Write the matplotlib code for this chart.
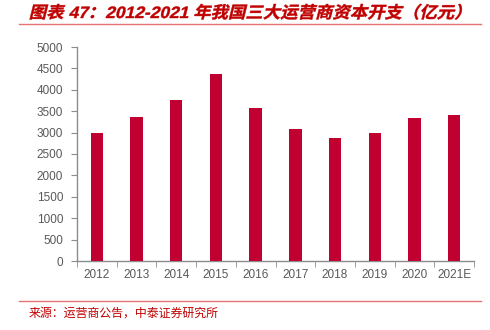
import numpy as np
import matplotlib.pyplot as plt
from matplotlib.lines import Line2D
from matplotlib.textpath import TextPath
from matplotlib.patches import PathPatch
from matplotlib.font_manager import FontProperties
from matplotlib.transforms import Affine2D, IdentityTransform

plt.rcParams['font.family'] = ['Liberation Sans', 'Noto Sans CJK SC', 'DejaVu Sans']

years = ['2012', '2013', '2014', '2015', '2016', '2017', '2018', '2019', '2020', '2021E']
capex = [2985, 3372, 3752, 4372, 3566, 3085, 2868, 3000, 3349, 3411]

W, H = 490, 330
fig = plt.figure(figsize=(W / 100, H / 100), dpi=100)

# plot area in pixel coords: left 77, right 474, top 47 (5000), bottom 261 (0)
ax = fig.add_axes([77 / W, 1 - 261 / H, (474 - 77) / W, (261 - 47) / H])
x = np.arange(len(years))
ax.bar(x, capex, width=0.31, color='#C00030', zorder=3)

ax.set_xlim(-0.5, len(years) - 0.5)
ax.set_ylim(0, 5000)
ax.set_yticks(np.arange(0, 5001, 500))
ax.set_xticks(x)
ax.set_xticklabels(years)
ax.set_xticks(np.arange(-0.5, len(years)), minor=True)

gray = '#8C8C8C'
for s in ['top', 'right']:
    ax.spines[s].set_visible(False)
for s in ['left', 'bottom']:
    ax.spines[s].set_color(gray)
    ax.spines[s].set_linewidth(1.0)
ax.tick_params(axis='y', direction='out', length=4, color=gray, labelcolor='#595959',
               labelsize=8.5, pad=6)
ax.tick_params(axis='x', which='major', length=0, labelcolor='#595959', labelsize=8.5, pad=6)
ax.tick_params(axis='x', which='minor', direction='out', length=4, color=gray)

# slanted bold title, drawn as a path in pixel space (origin bottom-left)
title = '图表 47：2012-2021 年我国三大运营商资本开支（亿元）'
tp = TextPath((0, 0), title, size=16.5,
              prop=FontProperties(family=['Liberation Sans', 'Noto Sans CJK SC'], weight='bold'))
bb = tp.get_extents()
sx = (460 - 30) / bb.width
tr = Affine2D().scale(sx, 1.0).skew_deg(14, 0).translate(30 - bb.x0 * sx, H - 18)
fig.add_artist(PathPatch(tp, transform=tr + IdentityTransform(), color='#C00000', lw=0.3))

fig.add_artist(Line2D([19 / W, 481 / W], [1 - 23.5 / H, 1 - 23.5 / H],
                      color='#E57373', lw=1.0))
fig.add_artist(Line2D([19 / W, 481 / W], [1 - 300.5 / H, 1 - 300.5 / H],
                      color='#E57373', lw=1.0))
fig.text(29 / W, 1 - 314 / H, '来源：运营商公告，中泰证券研究所',
         color='#C00000', fontsize=8.6, ha='left', va='center')

fig.savefig('out.png', dpi=100)
